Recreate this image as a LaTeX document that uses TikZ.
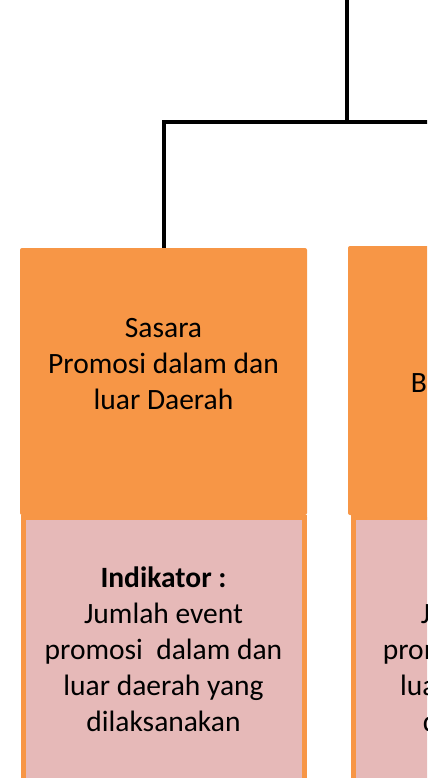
\documentclass[tikz,border=0pt]{standalone}
\usepackage{fontspec}
\setmainfont{Carlito}
\usetikzlibrary{positioning}
\definecolor{oranye}{HTML}{F79646}
\definecolor{merahmuda}{HTML}{E6B9B8}
\tikzset{
  kotak/.style={fill=oranye, rounded corners=2pt, inner sep=0pt, outer sep=0pt, anchor=north west},
  kotakind/.style={fill=merahmuda, draw=oranye, line width=5pt, inner sep=0pt, outer sep=0pt, anchor=north west},
  teks/.style={align=center, font=\fontsize{29.5}{36}\selectfont},
  potong/.style={teks, anchor=base west, inner sep=0pt},
  garis/.style={line width=4pt}
}
\begin{document}
\begin{tikzpicture}[x=1pt,y=-1pt]
    \useasboundingbox (0,0) rectangle (445,778);
    \clip (0,0) rectangle (427,778);
    % kotak sasaran
    \node[kotak, minimum width=287pt, minimum height=267pt] (sasaran1) at (20,248) {};
    \node[kotak, minimum width=304pt, minimum height=269pt] (sasaran2) at (348,246) {};
    % kotak indikator
    \node[kotakind, minimum width=281.6pt, minimum height=300pt] (indikator1) at (23.3,517.3) {};
    \node[kotakind, minimum width=281.6pt, minimum height=300pt] (indikator2) at (353.5,517.3) {};
    % garis penghubung
    \coordinate (atas) at (347,-5);
    \coordinate (simpang) at (347,122);
    \coordinate (kanan) at (440,122);
    \draw[garis] (atas) -- (simpang) -- (kanan);
    \draw[garis] (simpang) -| (sasaran1.north);
    % teks
    \node[teks] (teks1) at (163.5,364.5) {Sasara\\Promosi dalam dan\\luar Daerah};
    \node[teks] (teksind1) at (163.5,649) {\textbf{Indikator :}\\Jumlah event\\promosi\ \ dalam dan\\luar daerah yang\\dilaksanakan};
    \node[potong] at (410.7,392) {B};
    \node[potong] at (420.7,623) {J};
    \node[potong] at (382.7,659) {prom};
    \node[potong] at (400,695) {lua};
    \node[potong] at (422.7,731) {d};
\end{tikzpicture}
\end{document}
